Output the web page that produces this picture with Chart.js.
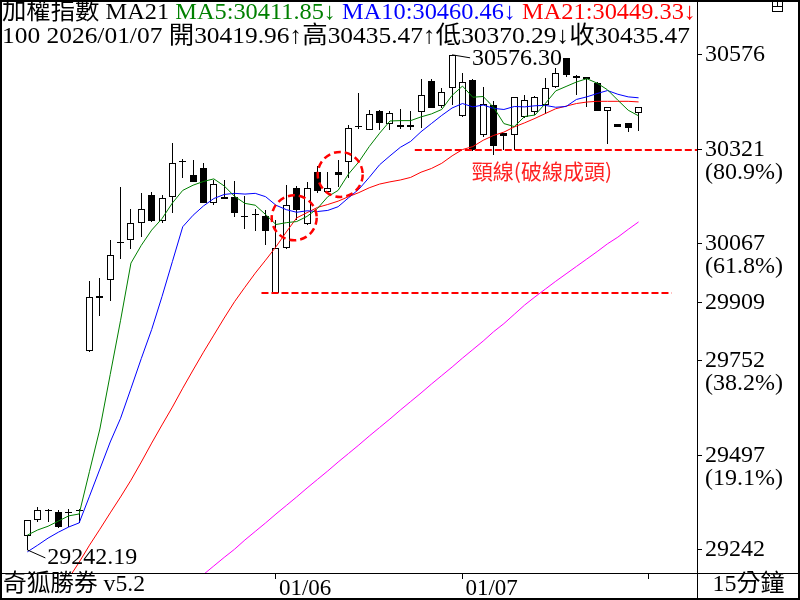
<!DOCTYPE html>
<html>
<head>
<meta charset="utf-8">
<script src="https://cdn.jsdelivr.net/npm/chart.js@4.4.1/dist/chart.umd.min.js"></script>
<style>
html, body { margin: 0; padding: 0; background: #fff; }
#myChart { display: block; }
</style>
</head>
<body>
<canvas id="myChart" width="800" height="600"></canvas>
<script>
// 15 min bars: 01/02 (last 6), 01/05, 01/06, 01/07
let openPrices = [29281, 29323, 29351, 29345, 29344, 29350, 29777, 29927, 29969, 30073,
    30077, 30122, 30199, 30128, 30194, 30290, 30252, 30271, 30176, 30194,
    30194, 30143, 30148, 30143, 29934, 30055, 30217, 30120, 30261, 30207,
    30261, 30288, 30385, 30374, 30426, 30390, 30386, 30387, 30423, 30507,
    30438, 30486, 30411, 30509, 30360, 30441, 30365, 30360, 30410, 30423,
    30441, 30490, 30567, 30519, 30516, 30500, 30426, 30390, 30392, 30419.96];
let highPrices = [29324, 29359, 29352, 29350, 29352, 29352, 29967, 29974, 30077, 30221,
    30161, 30205, 30207, 30199, 30340, 30296, 30293, 30286, 30239, 30239,
    30237, 30197, 30160, 30158, 30131, 30226, 30224, 30234, 30277, 30261,
    30293, 30387, 30473, 30428, 30428, 30426, 30430, 30426, 30510, 30510,
    30486, 30576.30, 30527, 30510, 30490, 30453, 30366, 30463, 30468, 30465,
    30513, 30540, 30568, 30522, 30517, 30504, 30436, 30391, 30392, 30435.47];
let lowPrices = [29242.19, 29318, 29318, 29300, 29305, 29315, 29775, 29873, 29914, 30025,
    30052, 30085, 30127, 30122, 30151, 30244, 30234, 30176, 30172, 30187,
    30140, 30107, 30102, 30064, 29933, 30052, 30131, 30119, 30205, 30206,
    30221, 30244, 30376, 30373, 30374, 30374, 30376, 30374, 30378, 30432,
    30432, 30441, 30410, 30318, 30356, 30306, 30320, 30320, 30405, 30414,
    30417, 30486, 30517, 30468, 30437, 30424, 30336, 30381, 30369, 30370.29];
let closePrices = [29323, 29350, 29348, 29303, 29341, 29347, 29924, 29920, 30036, 30070,
    30122, 30161, 30129, 30190, 30284, 30287, 30234, 30176, 30227, 30187,
    30149, 30140, 30145, 30102, 30055, 30172, 30158, 30218, 30208, 30217,
    30252, 30378, 30382, 30417, 30392, 30419, 30383, 30381, 30468, 30434,
    30477, 30576, 30504, 30320, 30444, 30331, 30358, 30462, 30455, 30462,
    30488, 30527, 30522, 30515, 30510, 30426, 30435, 30383, 30378, 30435.47];

let ma5 = [29282, 29296, 29306, 29320, 29334, 29339, 29454, 29568, 29715, 29861,
    30015, 30063, 30104, 30135, 30177, 30211, 30225, 30235, 30242, 30223,
    30195, 30176, 30171, 30146, 30119, 30124, 30127, 30141, 30162, 30194,
    30211, 30255, 30288, 30329, 30365, 30398, 30399, 30399, 30409, 30417,
    30429, 30467, 30492, 30462, 30464, 30435, 30391, 30383, 30410, 30414,
    30445, 30479, 30491, 30503, 30512, 30500, 30482, 30454, 30427, 30411.85];
let ma10 = [29237, 29255, 29274, 29290, 29304, 29315, 29387, 29460, 29533, 29597,
    29677, 29758, 29836, 29925, 30019, 30113, 30144, 30169, 30189, 30200,
    30203, 30201, 30203, 30194, 30171, 30159, 30152, 30156, 30154, 30157,
    30167, 30191, 30214, 30246, 30280, 30304, 30327, 30343, 30369, 30391,
    30413, 30433, 30445, 30436, 30441, 30432, 30429, 30437, 30436, 30439,
    30440, 30435, 30437, 30456, 30463, 30472, 30480, 30470, 30463, 30460.46];
let ma21 = [null, null, null, null, 29166, 29209, 29255, 29298, 29342, 29385,
    29430, 29479, 29530, 29579, 29627, 29678, 29727, 29775, 29821, 29867,
    29911, 29950, 29988, 30023, 30059, 30099, 30137, 30151, 30165, 30173,
    30182, 30194, 30205, 30218, 30228, 30234, 30239, 30246, 30260, 30270,
    30284, 30304, 30321, 30329, 30346, 30359, 30368, 30382, 30393, 30405,
    30418, 30431, 30438, 30445, 30449, 30451, 30451, 30451, 30451, 30449.33];
let ma100 = [null, null, null, null, null, null, null, null, null, null,
    null, null, null, null, null, null, 29153, 29176, 29199, 29222,
    29244, 29269, 29292, 29315, 29339, 29362, 29385, 29409, 29432, 29455,
    29479, 29502, 29525, 29549, 29572, 29595, 29619, 29642, 29665, 29689,
    29712, 29735, 29759, 29782, 29805, 29830, 29852, 29877, 29902, 29924,
    29945, 29966, 29986, 30006, 30026, 30046, 30067, 30085, 30106, 30126];

let priceTicks = [30576, 30321, 30067, 29909, 29752, 29497, 29242];
let priceTickNotes = ['', '(80.9%)', '(61.8%)', '', '(38.2%)', '(19.1%)', ''];
let dateTicks = [24, 42, 60];
let dateLabels = ['01/06', '01/07', ''];

let headerLine1 = [['加權指數 MA21 ', '#000'], ['MA5:30411.85↓ ', '#008000'],
    ['MA10:30460.46↓ ', '#0000ff'], ['MA21:30449.33↓', '#ff0000']];
let headerLine2 = '100 2026/01/07 開30419.96↑高30435.47↑低30370.29↓收30435.47';

// hand drawn marks (bar index, price)
let necklinePrice = 30321;
let supportPrice = 29934;
let circleMarks = [[25.76, 30137], [30.2, 30254]];

const SERIF = '"Liberation Serif", "Noto Sans CJK TC", serif';

function points(values) {
    return values.map((v, i) => ({ x: i, y: v }));
}

function drawRuns(ctx, runs, x, y, right) {
    let total = 0;
    runs.forEach(r => total += ctx.measureText(r[0]).width);
    ctx.save();
    ctx.translate(x, y);
    ctx.scale((right - x) / total, 1);
    let cx = 0;
    runs.forEach(r => {
        ctx.fillStyle = r[1];
        ctx.fillText(r[0], cx, 0);
        cx += ctx.measureText(r[0]).width;
    });
    ctx.restore();
}

// put candle rects on whole pixels so they stay crisp
function snapBars(chart) {
    chart.getSortedVisibleDatasetMetas().forEach(meta => {
        if (meta.type !== 'bar') return;
        meta.data.forEach(el => {
            el.x = Math.floor(el.x) + 0.5;
            el.y = Math.round(el.y);
            el.base = Math.round(el.base);
            if (el.y === el.base) el.base = el.y + 1;
        });
    });
}

function drawMarks(chart) {
    let ctx = chart.ctx;
    let xs = chart.scales.x;
    let ys = chart.scales.y;
    let area = chart.chartArea;
    ctx.save();

    // dashed neckline + support line
    ctx.strokeStyle = '#ff0000';
    ctx.lineWidth = 2;
    ctx.setLineDash([7, 3]);
    let yN = Math.round(ys.getPixelForValue(necklinePrice));
    ctx.beginPath();
    ctx.moveTo(xs.getPixelForValue(37.4), yN);
    ctx.lineTo(area.right, yN);
    ctx.stroke();
    let yS = Math.round(ys.getPixelForValue(supportPrice));
    ctx.beginPath();
    ctx.moveTo(xs.getPixelForValue(22.6), yS);
    ctx.lineTo(xs.getPixelForValue(62.2), yS);
    ctx.stroke();

    // circles
    ctx.lineWidth = 2.5;
    ctx.setLineDash([7, 4]);
    circleMarks.forEach(c => {
        ctx.beginPath();
        ctx.arc(xs.getPixelForValue(c[0]), ys.getPixelForValue(c[1]), 22.5, 0, Math.PI * 2);
        ctx.stroke();
    });
    ctx.setLineDash([]);

    ctx.fillStyle = '#ff2222';
    ctx.font = '21px "Noto Sans CJK TC", sans-serif';
    ctx.textBaseline = 'middle';
    ctx.textAlign = 'left';
    ctx.fillText('頸線(破線成頭)', xs.getPixelForValue(42.9), yN + 21);

    // low / high labels
    ctx.strokeStyle = '#000';
    ctx.fillStyle = '#000';
    ctx.lineWidth = 1;
    ctx.font = '24px ' + SERIF;
    let lx = xs.getPixelForValue(0);
    let ly = ys.getPixelForValue(lowPrices[0]);
    ctx.beginPath();
    ctx.moveTo(lx, ly);
    ctx.lineTo(lx + 18, ly + 8);
    ctx.stroke();
    ctx.fillText('29242.19', lx + 20, ly + 8);
    let hx = xs.getPixelForValue(41);
    let hy = ys.getPixelForValue(highPrices[41]);
    ctx.beginPath();
    ctx.moveTo(hx, hy);
    ctx.lineTo(hx + 18, hy + 3);
    ctx.stroke();
    ctx.fillText('30576.30', hx + 20, hy + 4);
    ctx.restore();
}

function drawFrame(chart) {
    let ctx = chart.ctx;
    let area = chart.chartArea;
    let ys = chart.scales.y;
    ctx.save();
    ctx.strokeStyle = '#000';
    ctx.lineWidth = 1;
    ctx.beginPath();
    ctx.moveTo(0, area.bottom + 0.5);
    ctx.lineTo(chart.width, area.bottom + 0.5);
    ctx.moveTo(area.right + 0.5, 0);
    ctx.lineTo(area.right + 0.5, chart.height);
    ctx.stroke();
    ctx.lineWidth = 2;
    ctx.strokeRect(1, 1, chart.width - 2, chart.height - 2);

    // small window icon
    ctx.lineWidth = 1;
    ctx.strokeRect(772.5, 1.5, 10, 10);
    ctx.beginPath();
    ctx.moveTo(772.5, 6.5);
    ctx.lineTo(782.5, 6.5);
    ctx.moveTo(777.5, 1.5);
    ctx.lineTo(777.5, 6.5);
    ctx.stroke();

    // header
    ctx.textBaseline = 'middle';
    ctx.textAlign = 'left';
    ctx.font = '24px ' + SERIF;
    drawRuns(ctx, headerLine1, 2, 13, 696);
    drawRuns(ctx, [[headerLine2, '#000']], 2, 37, 690);

    // percent notes under price ticks
    ctx.fillStyle = '#000';
    priceTicks.forEach((v, i) => {
        if (priceTickNotes[i]) {
            ctx.fillText(priceTickNotes[i], area.right + 8, ys.getPixelForValue(v) + 23);
        }
    });

    // bottom strip
    ctx.font = '24px ' + SERIF;
    drawRuns(ctx, [['奇狐勝券 v5.2', '#000']], 3, 585, 145);
    ctx.textAlign = 'center';
    ctx.fillText('15分鐘', (area.right + chart.width) / 2, 585);
    ctx.restore();
}

const overlay = {
    id: 'overlay',
    beforeDraw(chart) {
        let ctx = chart.ctx;
        ctx.save();
        ctx.fillStyle = '#fff';
        ctx.fillRect(0, 0, chart.width, chart.height);
        ctx.restore();
    },
    beforeDatasetsDraw(chart) {
        snapBars(chart);
    },
    afterDatasetsDraw(chart) {
        drawMarks(chart);
    },
    afterDraw(chart) {
        drawFrame(chart);
    }
};

let wickData = lowPrices.map((l, i) => ({ x: i, y: [l, highPrices[i]] }));
let bodyData = openPrices.map((o, i) => ({ x: i, y: [o, closePrices[i]] }));
let bodyColors = openPrices.map((o, i) => closePrices[i] >= o ? '#ffffff' : '#000000');

let data = {
    datasets: [
        { type: 'line', data: points(ma5), borderColor: '#008000', borderWidth: 1, pointRadius: 0, order: 0 },
        { type: 'line', data: points(ma10), borderColor: '#0000ff', borderWidth: 1, pointRadius: 0, order: 0 },
        { type: 'line', data: points(ma21), borderColor: '#ff0000', borderWidth: 1, pointRadius: 0, order: 0 },
        { type: 'line', data: points(ma100), borderColor: '#ff00ff', borderWidth: 1, pointRadius: 0, order: 0 },
        {
            type: 'bar', data: bodyData, backgroundColor: bodyColors, borderColor: '#000',
            borderWidth: 1, borderSkipped: false, barThickness: 7, grouped: false, inflateAmount: 0, order: 1
        },
        {
            type: 'bar', data: wickData, backgroundColor: '#000', borderWidth: 0,
            barThickness: 1, grouped: false, inflateAmount: 0, order: 2
        }
    ]
};

const config = {
    type: 'bar',
    data: data,
    options: {
        responsive: false,
        animation: false,
        devicePixelRatio: 1,
        events: [],
        layout: { padding: 0 },
        plugins: {
            legend: { display: false },
            tooltip: { enabled: false }
        },
        scales: {
            x: {
                type: 'linear',
                min: -2.64,
                max: 64.64,
                offset: false,
                grid: { display: true, drawOnChartArea: false, drawTicks: true, tickLength: 6, color: '#000', offset: false },
                border: { display: false },
                ticks: {
                    autoSkip: false, maxRotation: 0, minRotation: 0, align: 'start', labelOffset: 3, padding: -4,
                    color: '#000', font: { family: SERIF, size: 23 },
                    callback: (value) => {
                        let i = dateTicks.indexOf(value);
                        return i >= 0 ? dateLabels[i] : '';
                    }
                },
                afterBuildTicks: (scale) => {
                    scale.ticks = dateTicks.map(v => ({ value: v }));
                },
                afterFit: (scale) => {
                    scale.height = 27;
                    scale.paddingLeft = 0;
                    scale.paddingRight = 0;
                }
            },
            y: {
                type: 'linear',
                position: 'right',
                min: 29180,
                max: 30724,
                grid: { display: true, drawOnChartArea: false, drawTicks: true, tickLength: 5, color: '#000' },
                border: { display: false },
                ticks: {
                    padding: 3, color: '#000', font: { family: SERIF, size: 24 },
                    callback: (value) => String(value)
                },
                afterBuildTicks: (scale) => {
                    scale.ticks = priceTicks.map(v => ({ value: v }));
                },
                afterFit: (scale) => {
                    scale.width = 103;
                    scale.paddingTop = 0;
                    scale.paddingBottom = 0;
                }
            }
        }
    },
    plugins: [overlay]
};

let myChart;

function init() {
    myChart = new Chart(document.getElementById('myChart'), config);
}

init();
</script>
</body>
</html>
